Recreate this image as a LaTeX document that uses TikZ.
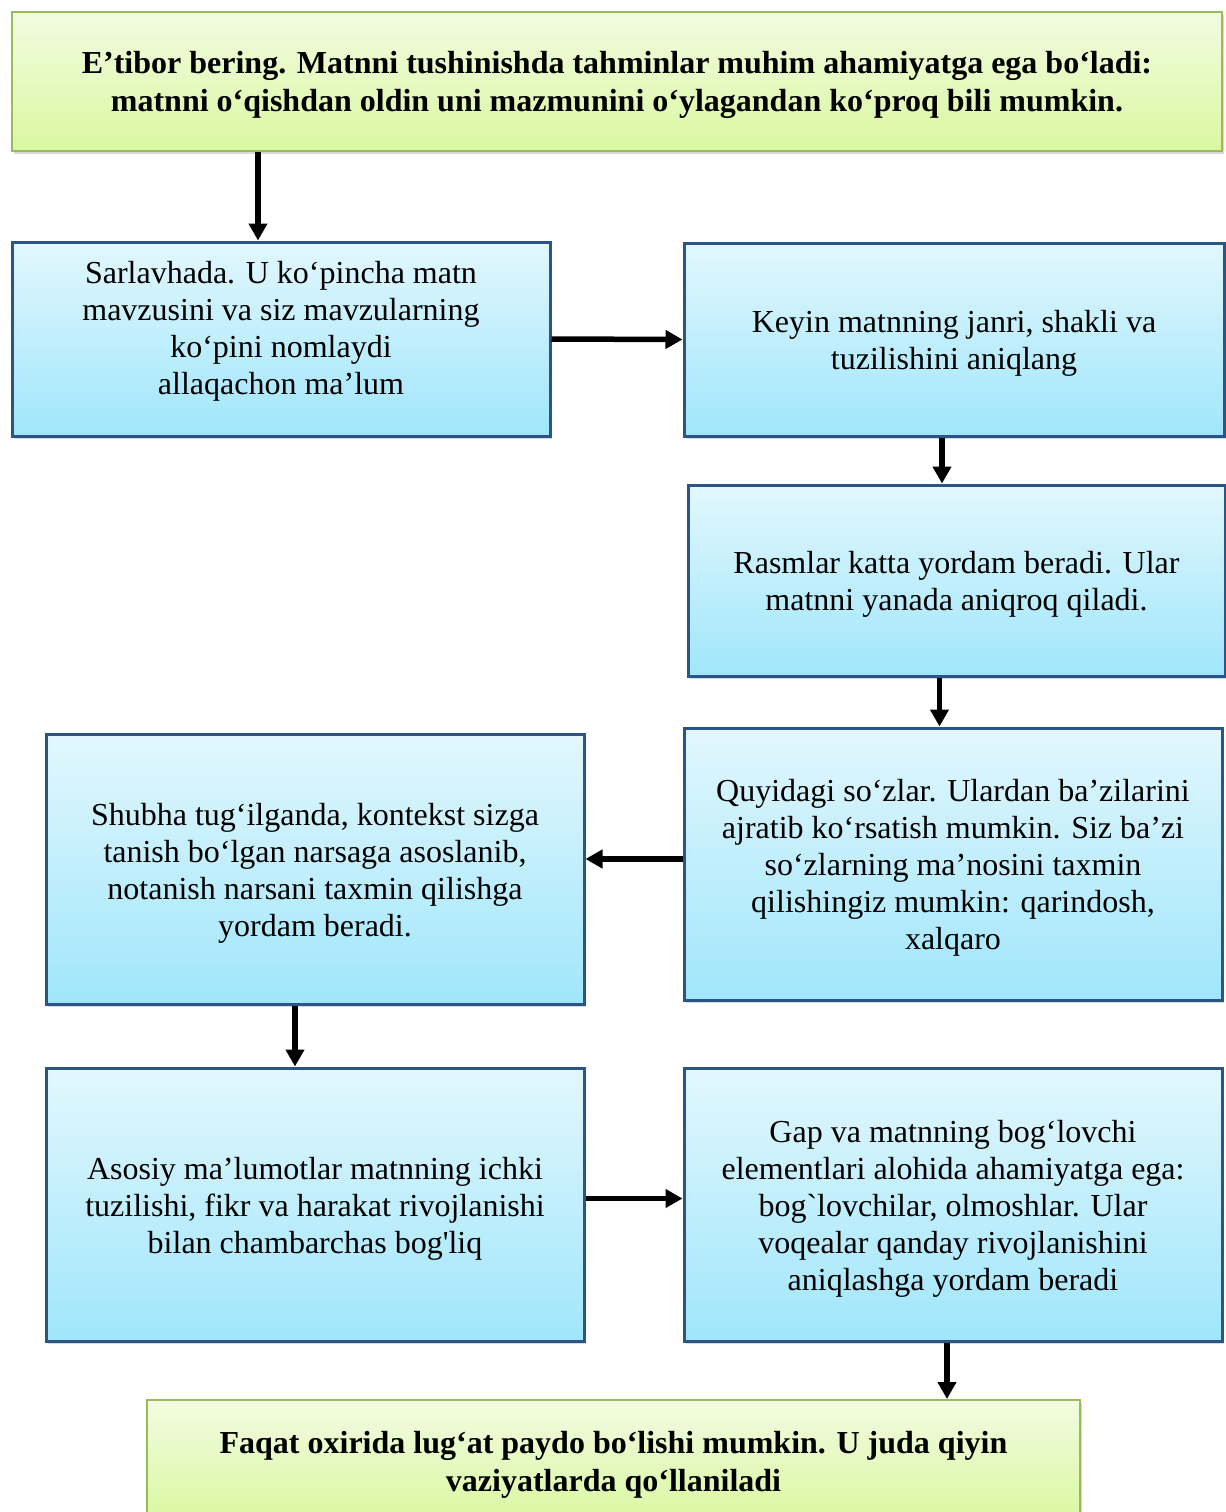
\documentclass[tikz,border=0pt]{standalone}
\usepackage{fontspec}
\setmainfont{Liberation Serif}[Ligatures=TeXOff]
\usetikzlibrary{shapes,arrows.meta,positioning,shadows}

\definecolor{boxblue}{HTML}{2C5587}
\definecolor{bluetop}{HTML}{E2F7FD}
\definecolor{bluebot}{HTML}{A0E6FB}
\definecolor{boxgreen}{HTML}{9BBB59}
\definecolor{greentop}{HTML}{F3FBE2}
\definecolor{greenbot}{HTML}{D9F8A0}

% strut that pushes the text a little lower in its box
\newcommand\boxstrut{\rule{0pt}{15pt}}

\tikzset{
  bluebox/.style={draw=boxblue, line width=1.5pt, top color=bluetop, bottom color=bluebot,
    drop shadow={shadow xshift=1pt, shadow yshift=-1.5pt, opacity=0.3},
    align=center, inner sep=0pt, font=\fontsize{16}{18.5}\selectfont},
  greenbox/.style={draw=boxgreen, line width=1pt, top color=greentop, bottom color=greenbot,
    drop shadow={shadow xshift=1pt, shadow yshift=-1.5pt, opacity=0.3},
    align=center, inner sep=0pt, font=\fontsize{16}{19}\selectfont\bfseries},
  arr/.style={-{Triangle[length=8.5pt,width=9pt]}, line width=2.75pt, black}
}

\begin{document}
\begin{tikzpicture}[x=0.5pt, y=-0.5pt]
            \useasboundingbox (0,0) rectangle (1226,1512);

            % Boxes
            \node[greenbox, minimum width=605pt, minimum height=69.5pt] (top) at (617,81.5)
                {\boxstrut E’tibor bering. Matnni tushinishda tahminlar muhim ahamiyatga ega bo‘ladi:\\
                 matnni o‘qishdan oldin uni mazmunini o‘ylagandan ko‘proq bili mumkin.};
            \node[bluebox, minimum width=269pt, minimum height=97pt] (sarlavha) at (281,339)
                {Sarlavhada. U ko‘pincha matn\\ mavzusini va siz mavzularning\\ ko‘pini nomlaydi\\
                 allaqachon ma’lum\rule[-11.5pt]{0pt}{0pt}};
            \node[bluebox, minimum width=270pt, minimum height=96.5pt] (janr) at (954,339.5)
                {\boxstrut Keyin matnning janri, shakli va\\ tuzilishini aniqlang};
            \node[bluebox, minimum width=268.5pt, minimum height=95.5pt] (rasm) at (956.5,580.5)
                {\boxstrut Rasmlar katta yordam beradi. Ular\\ matnni yanada aniqroq qiladi.};
            \node[bluebox, minimum width=269pt, minimum height=136pt] (sozlar) at (953,864)
                {\boxstrut Quyidagi so‘zlar. Ulardan ba’zilarini\\ ajratib ko‘rsatish mumkin. Siz ba’zi\\
                 so‘zlarning ma’nosini taxmin\\ qilishingiz mumkin: qarindosh,\\ xalqaro};
            \node[bluebox, minimum width=269pt, minimum height=135pt] (shubha) at (315,869)
                {\boxstrut Shubha tug‘ilganda, kontekst sizga\\ tanish bo‘lgan narsaga asoslanib,\\
                 notanish narsani taxmin qilishga\\ yordam beradi.};
            \node[bluebox, minimum width=269pt, minimum height=136.5pt] (asosiy) at (315,1204.5)
                {\boxstrut Asosiy ma’lumotlar matnning ichki\\ tuzilishi, fikr va harakat rivojlanishi\\ bilan chambarchas bog'liq};
            \node[bluebox, minimum width=269pt, minimum height=136.5pt] (gap) at (953,1204.5)
                {\boxstrut Gap va matnning bog‘lovchi\\ elementlari alohida ahamiyatga ega:\\ bog`lovchilar, olmoshlar. Ular\\
                 voqealar qanday rivojlanishini\\ aniqlashga yordam beradi};
            \node[greenbox, minimum width=466.5pt, minimum height=61pt] (lugat) at (613.5,1461)
                {\boxstrut Faqat oxirida lug‘at paydo bo‘lishi mumkin. U juda qiyin\\ vaziyatlarda qo‘llaniladi};

            % Arrows
            \draw[arr] ([xshift=-11.5pt]sarlavha.north |- top.south) -- ([xshift=-11.5pt]sarlavha.north);
            \draw[arr] (sarlavha.east) -- (janr.west);
            \draw[arr] ([xshift=-6pt]janr.south) -- ([xshift=-6pt]janr.south |- rasm.north);
            \draw[arr] ([xshift=-8.5pt]rasm.south) -- ([xshift=-8.5pt]rasm.south |- sozlar.north);
            \draw[arr] ([yshift=2.5pt]sozlar.west) -- ([yshift=2.5pt]sozlar.west -| shubha.east);
            \draw[arr] ([xshift=-10pt]shubha.south) -- ([xshift=-10pt]shubha.south |- asosiy.north);
            \draw[arr] ([yshift=3pt]asosiy.east) -- ([yshift=3pt]asosiy.east -| gap.west);
            \draw[arr] ([xshift=-3pt]gap.south) -- ([xshift=-3pt]gap.south |- lugat.north);
        \end{tikzpicture}
\end{document}
